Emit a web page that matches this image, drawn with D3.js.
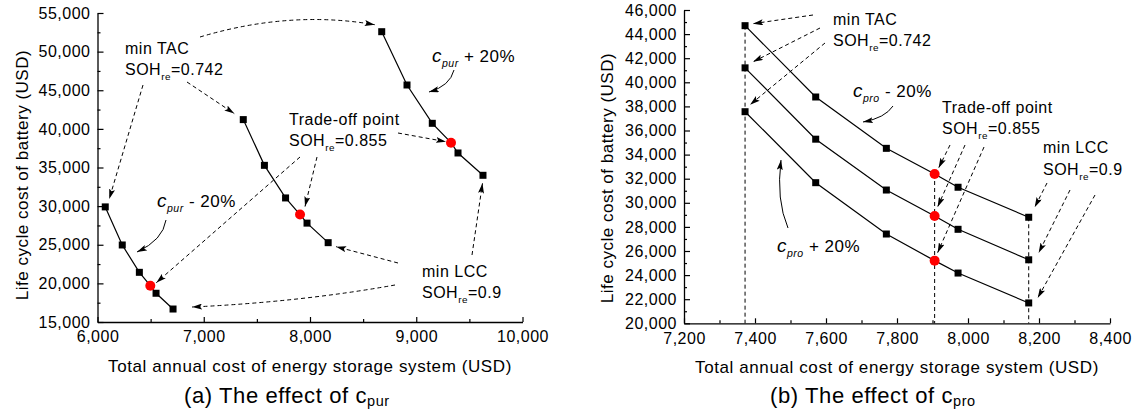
<!DOCTYPE html>
<html>
<head>
<meta charset="utf-8">
<script src="https://cdn.jsdelivr.net/npm/d3@7/dist/d3.min.js"></script>
<style>
body{margin:0;background:#fff}
svg text{font-family:"Liberation Sans",Arial,sans-serif;fill:#000}
</style>
</head>
<body>
<svg id="chart" width="1135" height="411"></svg>
<script>
// ---- data ----
// (a) effect of c_pur : x = total annual cost (USD), y = life cycle cost (USD)
var tacPurMinus = [6073, 6233, 6394, 6497, 6551, 6711];
var lccPurMinus = [29900, 24970, 21430, 19700, 18720, 16680];
var tacBase = [7372, 7571, 7770, 7906, 7972, 8171];
var lccBase = [41200, 35280, 31060, 28910, 27800, 25270];
var tacPurPlus = [8675, 8913, 9151, 9327, 9393, 9628];
var lccPurPlus = [52580, 45680, 40720, 38210, 36880, 33990];
// (b) effect of c_pro (same x values as base)
var lccProMinus = [44700, 38780, 34520, 32390, 31290, 28800];
var lccProPlus = [37560, 31670, 27410, 25200, 24170, 21690];
var tradeIdx = 3; // SOHre = 0.855 point drawn red

var xTicksA = [6000, 7000, 8000, 9000, 10000];
var yTicksA = [15000, 20000, 25000, 30000, 35000, 40000, 45000, 50000, 55000];
var xTicksB = [7200, 7400, 7600, 7800, 8000, 8200, 8400];
var yTicksB = [20000, 22000, 24000, 26000, 28000, 30000, 32000, 34000, 36000, 38000, 40000, 42000, 44000, 46000];

var svg = d3.select("#chart");
var fmt = d3.format(",");

// arrowheads
var defs = svg.append("defs");
defs.append("marker").attr("id", "arr")
  .attr("viewBox", "0 0 10 6").attr("refX", 10).attr("refY", 3)
  .attr("markerWidth", 10).attr("markerHeight", 6).attr("markerUnits", "userSpaceOnUse")
  .attr("orient", "auto")
  .append("path").attr("d", "M0,0 L10,3 L0,6 L2,3 Z").attr("fill", "#000");

// scales
var xA = d3.scaleLinear().domain([6000, 10000]).range([97.5, 522.5]);
var yA = d3.scaleLinear().domain([15000, 55000]).range([322, 13]);
var xB = d3.scaleLinear().domain([7200, 8400]).range([684, 1110]);
var yB = d3.scaleLinear().domain([20000, 46000]).range([323.3, 10]);

function minorOf(ticks) {
  var out = [];
  for (var i = 0; i < ticks.length - 1; i++) out.push((ticks[i] + ticks[i + 1]) / 2);
  return out;
}

function drawAxes(x, y, xt, yt) {
  var g = svg.append("g").attr("class", "axes");
  var y0 = y.range()[0], x0 = x.range()[0];
  g.append("g").attr("transform", "translate(0," + y0 + ")")
    .call(d3.axisBottom(x).tickValues(xt).tickSizeInner(-5).tickSizeOuter(0).tickPadding(9).tickFormat(fmt));
  g.append("g").attr("transform", "translate(0," + y0 + ")")
    .call(d3.axisBottom(x).tickValues(minorOf(xt)).tickSize(-3).tickFormat(""))
    .select(".domain").remove();
  g.append("g").attr("transform", "translate(" + x0 + ",0)")
    .call(d3.axisLeft(y).tickValues(yt).tickSizeInner(-6).tickSizeOuter(0).tickPadding(7).tickFormat(fmt));
  g.append("g").attr("transform", "translate(" + x0 + ",0)")
    .call(d3.axisLeft(y).tickValues(minorOf(yt)).tickSize(-3).tickFormat(""))
    .select(".domain").remove();
  g.selectAll("path.domain").attr("stroke", "#000").attr("stroke-width", 1.3);
  g.selectAll(".tick line").attr("stroke", "#000").attr("stroke-width", 1.2);
  g.selectAll(".tick text").attr("font-size", 16).attr("letter-spacing", "0.5px")
    .attr("font-family", "'Liberation Sans', Arial, sans-serif").attr("fill", "#000");
}

function drawSeries(x, y, xs, ys) {
  var pts = xs.map(function (d, i) { return [x(d), y(ys[i])]; });
  svg.append("path").attr("d", d3.line()(pts))
    .attr("fill", "none").attr("stroke", "#000").attr("stroke-width", 1.2);
  svg.append("g").selectAll("rect").data(pts.filter(function (d, i) { return i !== tradeIdx; }))
    .enter().append("rect")
    .attr("x", function (d) { return d[0] - 3.5; }).attr("y", function (d) { return d[1] - 3.5; })
    .attr("width", 7).attr("height", 7).attr("fill", "#000");
  svg.append("circle").attr("cx", pts[tradeIdx][0]).attr("cy", pts[tradeIdx][1])
    .attr("r", 5).attr("fill", "#ff0000");
}

// label with subscript, parts: [text, sub, text]
function label(x, y, parts, size, italicFirst) {
  var t = svg.append("text").attr("x", x).attr("y", y).attr("font-size", size).attr("letter-spacing", "0.5px");
  t.append("tspan").text(parts[0]).attr("font-style", italicFirst ? "italic" : null);
  if (parts[1]) {
    t.append("tspan").text(parts[1]).attr("font-size", size * 0.62).attr("dy", size * 0.3)
      .attr("font-style", italicFirst ? "italic" : null);
    t.append("tspan").text(parts[2]).attr("dy", -size * 0.3);
  }
  return t;
}

function dashArrow(d) {
  svg.append("path").attr("d", d).attr("fill", "none").attr("stroke", "#000")
    .attr("stroke-width", 1).attr("stroke-dasharray", "4,3").attr("marker-end", "url(#arr)");
}
function solidArrow(d) {
  svg.append("path").attr("d", d).attr("fill", "none").attr("stroke", "#000")
    .attr("stroke-width", 1).attr("marker-end", "url(#arr)");
}

// ================= panel (a) =================
drawAxes(xA, yA, xTicksA, yTicksA);
drawSeries(xA, yA, tacPurMinus, lccPurMinus);
drawSeries(xA, yA, tacBase, lccBase);
drawSeries(xA, yA, tacPurPlus, lccPurPlus);

label(125, 54, ["min TAC"], 16);
label(125, 75, ["SOH", "re", "=0.742"], 16);
dashArrow("M143,85 L" + (xA(tacPurMinus[0]) + 4) + "," + (yA(lccPurMinus[0]) - 8));
dashArrow("M187,82 L" + (xA(tacBase[0]) - 9) + "," + (yA(lccBase[0]) - 6));
dashArrow("M200,37 Q290,10 " + (xA(tacPurPlus[0]) - 7) + "," + (yA(lccPurPlus[0]) - 7));

label(289, 125, ["Trade-off point"], 16);
label(289, 146, ["SOH", "re", "=0.855"], 16);
dashArrow("M398,133 L" + (xA(tacPurPlus[tradeIdx]) - 5) + "," + (yA(lccPurPlus[tradeIdx]) - 1));
dashArrow("M317,157 L" + (xA(tacBase[tradeIdx]) + 5) + "," + (yA(lccBase[tradeIdx]) - 8));
dashArrow("M300,157 L" + (xA(tacPurMinus[tradeIdx]) + 6) + "," + (yA(lccPurMinus[tradeIdx]) - 3));

label(422, 277, ["min LCC"], 16);
label(422, 298, ["SOH", "re", "=0.9"], 16);
dashArrow("M472,255 L" + (xA(tacPurPlus[5]) - 0.5) + "," + (yA(lccPurPlus[5]) + 8));
dashArrow("M398,263 L" + (xA(tacBase[5]) + 8) + "," + (yA(lccBase[5]) + 4));
dashArrow("M395,285 Q300,302 " + (xA(tacPurMinus[5]) + 19) + "," + (yA(lccPurMinus[5]) - 2));

label(432, 62, ["c", "pur", " + 20%"], 17, true).select("tspan").attr("font-size", 19);
solidArrow("M454,70 Q450,86 429,92");
label(157, 207, ["c", "pur", " - 20%"], 17, true).select("tspan").attr("font-size", 19);
solidArrow("M166,220 Q163,240 137,252");

// axis titles + caption (a)
svg.append("text").attr("x", 310).attr("y", 372).attr("text-anchor", "middle").attr("font-size", 17)
  .attr("letter-spacing", "0.6px").text("Total annual cost of energy storage system (USD)");
svg.append("text").attr("transform", "translate(28,175) rotate(-90)").attr("text-anchor", "middle")
  .attr("font-size", 17).attr("letter-spacing", "0.5px").text("Life cycle cost of battery (USD)");
var capA = svg.append("text").attr("x", 184).attr("y", 403).attr("font-size", 22).attr("letter-spacing", "0.6px");
capA.append("tspan").text("(a) The effect of c");
capA.append("tspan").text("pur").attr("font-size", 14.5).attr("dy", 3);

// ================= panel (b) =================
drawAxes(xB, yB, xTicksB, yTicksB);
// vertical guides
[0, tradeIdx, 5].forEach(function (i) {
  svg.append("line").attr("x1", xB(tacBase[i])).attr("x2", xB(tacBase[i]))
    .attr("y1", yB(lccProMinus[i])).attr("y2", yB.range()[0])
    .attr("stroke", "#000").attr("stroke-width", 1).attr("stroke-dasharray", "4,3");
});
drawSeries(xB, yB, tacBase, lccProMinus);
drawSeries(xB, yB, tacBase, lccBase);
drawSeries(xB, yB, tacBase, lccProPlus);

label(833, 25, ["min TAC"], 16);
label(833, 46, ["SOH", "re", "=0.742"], 16);
dashArrow("M813,15 L" + (xB(tacBase[0]) + 8) + "," + (yB(lccProMinus[0]) - 2));
dashArrow("M820,28 L" + (xB(tacBase[0]) + 8) + "," + (yB(lccBase[0]) - 6));
dashArrow("M825,43 L" + (xB(tacBase[0]) + 5) + "," + (yB(lccProPlus[0]) - 7));

label(942, 113, ["Trade-off point"], 16);
label(942, 134, ["SOH", "re", "=0.855"], 16);
dashArrow("M950,145 L" + (xB(tacBase[tradeIdx]) + 4) + "," + (yB(lccProMinus[tradeIdx]) - 6));
dashArrow("M965,145 L" + (xB(tacBase[tradeIdx]) + 3) + "," + (yB(lccBase[tradeIdx]) - 9));
dashArrow("M984,147 L" + (xB(tacBase[tradeIdx]) + 3) + "," + (yB(lccProPlus[tradeIdx]) - 8));

label(1043, 153, ["min LCC"], 16);
label(1043, 175, ["SOH", "re", "=0.9"], 16);
dashArrow("M1047,183 L" + (xB(tacBase[5]) + 6) + "," + (yB(lccProMinus[5]) - 10));
dashArrow("M1070,190 L" + (xB(tacBase[5]) + 10) + "," + (yB(lccBase[5]) - 7));
dashArrow("M1095,195 L" + (xB(tacBase[5]) + 9) + "," + (yB(lccProPlus[5]) - 5));

label(853, 97, ["c", "pro", " - 20%"], 17, true).select("tspan").attr("font-size", 19);
solidArrow("M893,106 Q885,118 863,122");
label(777, 252, ["c", "pro", " + 20%"], 17, true).select("tspan").attr("font-size", 19);
solidArrow("M788,228 Q776,200 781,160");

svg.append("text").attr("x", 897).attr("y", 373).attr("text-anchor", "middle").attr("font-size", 17)
  .attr("letter-spacing", "0.6px").text("Total annual cost of energy storage system (USD)");
svg.append("text").attr("transform", "translate(613,178) rotate(-90)").attr("text-anchor", "middle")
  .attr("font-size", 17).attr("letter-spacing", "0.5px").text("Life cycle cost of battery (USD)");
var capB = svg.append("text").attr("x", 770).attr("y", 403).attr("font-size", 22).attr("letter-spacing", "0.6px");
capB.append("tspan").text("(b) The effect of c");
capB.append("tspan").text("pro").attr("font-size", 14.5).attr("dy", 3);
</script>
</body>
</html>
